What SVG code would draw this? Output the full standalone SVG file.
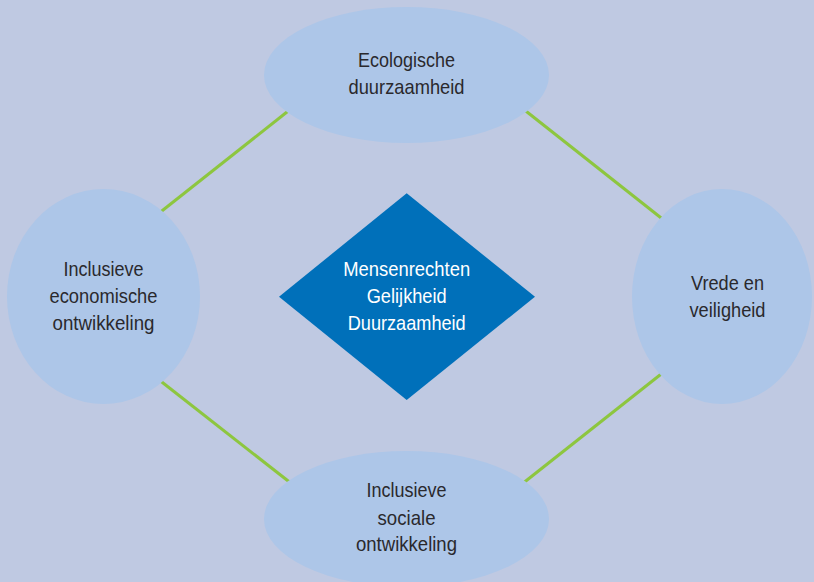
<svg xmlns="http://www.w3.org/2000/svg" width="814" height="582" viewBox="0 0 814 582">
<style>
.bg{fill:#BFC9E2}
.node{fill:#ADC6E8}
.dia{fill:#0070BA}
.conn{stroke:#8DC63F;stroke-width:3;fill:none}
.t{font-family:"Liberation Sans",Arial,sans-serif;font-size:21px;fill:#2A292D;text-anchor:middle}
.w{fill:#FFFFFF}
</style>
<rect class="bg" x="0" y="0" width="814" height="582"/>
<g id="connectors">
<line class="conn" x1="158" y1="214" x2="292" y2="108"/>
<line class="conn" x1="522" y1="108" x2="665" y2="221"/>
<line class="conn" x1="158" y1="379" x2="292" y2="484"/>
<line class="conn" x1="522" y1="484" x2="665" y2="371"/>
</g>
<g id="node-top">
<ellipse class="node" cx="406.5" cy="75" rx="142.5" ry="68"/>
<text class="t" x="406.5" y="67" textLength="97" lengthAdjust="spacingAndGlyphs">Ecologische</text>
<text class="t" x="406.5" y="94" textLength="116" lengthAdjust="spacingAndGlyphs">duurzaamheid</text>
</g>
<g id="node-left">
<ellipse class="node" cx="103.5" cy="296.5" rx="96.5" ry="107.5"/>
<text class="t" x="103.5" y="276" textLength="80" lengthAdjust="spacingAndGlyphs">Inclusieve</text>
<text class="t" x="103.5" y="303" textLength="108" lengthAdjust="spacingAndGlyphs">economische</text>
<text class="t" x="103.5" y="330" textLength="102" lengthAdjust="spacingAndGlyphs">ontwikkeling</text>
</g>
<g id="node-right">
<ellipse class="node" cx="722" cy="296.5" rx="90" ry="107.5"/>
<text class="t" x="727.5" y="290" textLength="73" lengthAdjust="spacingAndGlyphs">Vrede en</text>
<text class="t" x="727.5" y="316.5" textLength="76" lengthAdjust="spacingAndGlyphs">veiligheid</text>
</g>
<g id="node-bottom">
<ellipse class="node" cx="406.5" cy="519" rx="142.5" ry="68"/>
<text class="t" x="406.5" y="497" textLength="80" lengthAdjust="spacingAndGlyphs">Inclusieve</text>
<text class="t" x="406.5" y="525" textLength="58" lengthAdjust="spacingAndGlyphs">sociale</text>
<text class="t" x="406.5" y="551" textLength="101" lengthAdjust="spacingAndGlyphs">ontwikkeling</text>
</g>
<g id="node-center">
<polygon class="dia" points="406.7,193.3 535,296.7 406.7,400 279,296.7"/>
<text class="t w" x="406.7" y="276" textLength="127" lengthAdjust="spacingAndGlyphs">Mensenrechten</text>
<text class="t w" x="406.7" y="302.7" textLength="80" lengthAdjust="spacingAndGlyphs">Gelijkheid</text>
<text class="t w" x="406.7" y="330" textLength="118" lengthAdjust="spacingAndGlyphs">Duurzaamheid</text>
</g>
</svg>
